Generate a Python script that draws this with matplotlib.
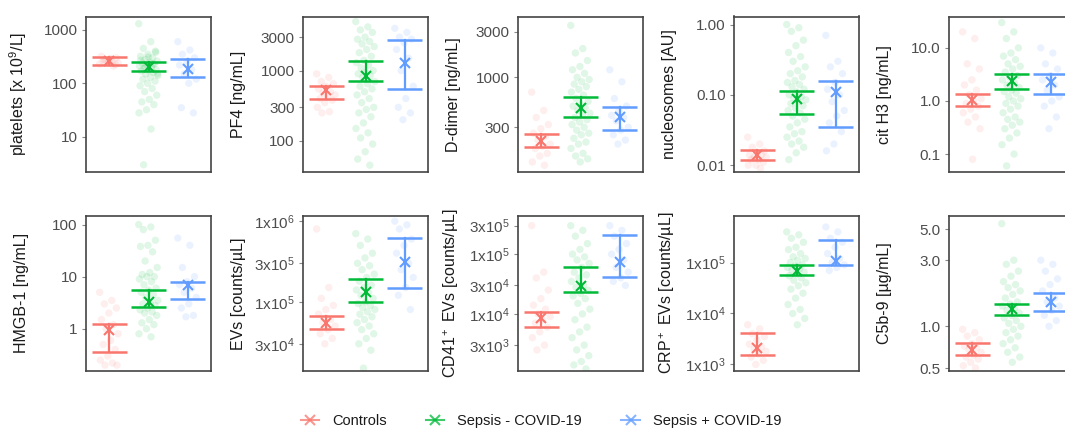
import matplotlib
matplotlib.use('Agg')
import matplotlib.pyplot as plt
from matplotlib.lines import Line2D
from matplotlib.ticker import FixedLocator, NullLocator

plt.rcParams['font.family'] = ['Liberation Sans', 'DejaVu Sans']
plt.rcParams['mathtext.fontset'] = 'custom'
plt.rcParams['mathtext.rm'] = 'Liberation Sans'
plt.rcParams['mathtext.it'] = 'Liberation Sans'

groups = ['Controls', 'Sepsis - COVID-19', 'Sepsis + COVID-19']
colors = ['#F8766D', '#00BA38', '#619CFF']

# --- data: points per group, error bar low / center / high per group ---
platelets_pts = [
    [230, 260, 280, 300, 250, 320, 210, 270, 240, 290, 260, 225],
    [1300, 600, 450, 400, 350, 320, 300, 280, 260, 250, 240, 230, 220, 210, 200, 190, 180, 175,
     170, 160, 150, 140, 130, 120, 110, 100, 90, 80, 70, 60, 50, 45, 40, 32, 28, 14, 3, 380, 310,
     270, 230, 200, 150],
    [600, 420, 350, 300, 260, 220, 180, 150, 120, 100, 35, 28],
]
platelets_lo = [222, 168, 134]
platelets_mid = [265, 206, 187]
platelets_hi = [317, 248, 287]

pf4_pts = [
    [900, 800, 700, 650, 600, 550, 500, 480, 450, 420, 400, 380, 350, 300, 260, 250],
    [5000, 4200, 3800, 3500, 3000, 2800, 2600, 2400, 2200, 2000, 1800, 1600, 1400, 1300, 1200,
     1100, 1000, 950, 900, 850, 800, 700, 650, 600, 550, 500, 450, 400, 350, 300, 280, 250, 220,
     180, 150, 130, 110, 90, 70, 55, 45],
    [4000, 3500, 3000, 2800, 2500, 2000, 1500, 1000, 600, 400, 300, 250, 200],
]
pf4_lo = [398, 703, 553]
pf4_mid = [530, 849, 1288]
pf4_hi = [597, 1360, 2710]

ddimer_pts = [
    [700, 450, 380, 320, 290, 260, 240, 220, 200, 190, 180, 160, 150, 130, 120],
    [3500, 2000, 1800, 1500, 1300, 1200, 1100, 1000, 950, 900, 850, 800, 750, 700, 650, 600, 560,
     520, 500, 480, 450, 420, 400, 380, 360, 340, 320, 300, 280, 260, 250, 230, 210, 200, 180, 160,
     150, 140, 130],
    [1200, 900, 600, 500, 450, 400, 380, 350, 300, 280, 250, 220, 200],
]
ddimer_lo = [188, 382, 281]
ddimer_mid = [217, 483, 385]
ddimer_hi = [253, 621, 486]

nucl_pts = [
    [0.025, 0.02, 0.018, 0.016, 0.015, 0.014, 0.014, 0.013, 0.013, 0.012, 0.012, 0.011, 0.010,
     0.010, 0.009],
    [1.0, 0.9, 0.8, 0.6, 0.5, 0.4, 0.35, 0.3, 0.25, 0.22, 0.2, 0.18, 0.16, 0.15, 0.14, 0.13, 0.12,
     0.11, 0.1, 0.095, 0.09, 0.085, 0.08, 0.075, 0.07, 0.065, 0.06, 0.055, 0.05, 0.045, 0.04,
     0.035, 0.03, 0.028, 0.025, 0.022, 0.02, 0.018, 0.015, 0.012],
    [0.7, 0.3, 0.25, 0.2, 0.15, 0.12, 0.1, 0.08, 0.06, 0.05, 0.04, 0.03, 0.02, 0.016],
]
nucl_lo = [0.0119, 0.054, 0.0352]
nucl_mid = [0.0139, 0.086, 0.109]
nucl_hi = [0.0162, 0.114, 0.155]

cith3_pts = [
    [20, 15, 5, 4, 2.5, 2, 1.6, 1.3, 1.1, 1.0, 0.9, 0.8, 0.7, 0.6, 0.5, 0.4, 0.3, 0.08],
    [30, 20, 15, 10, 8, 7, 6, 5, 4.5, 4, 3.5, 3, 2.8, 2.5, 2.2, 2, 1.8, 1.6, 1.5, 1.4, 1.2, 1.1,
     1.0, 0.9, 0.8, 0.7, 0.6, 0.5, 0.45, 0.4, 0.35, 0.3, 0.25, 0.2, 0.15, 0.1, 0.06],
    [10, 8, 5, 4, 3, 2.5, 2, 1.6, 1.2, 1.0, 0.8, 0.5, 0.3],
]
cith3_lo = [0.79, 1.69, 1.38]
cith3_mid = [1.06, 2.34, 2.3]
cith3_hi = [1.38, 3.2, 3.2]

hmgb_pts = [
    [5, 3.5, 3, 2.5, 2, 1.5, 1.2, 1.0, 0.8, 0.6, 0.5, 0.4, 0.3, 0.25, 0.22, 0.2, 0.2],
    [100, 90, 80, 50, 40, 38, 30, 20, 15, 12, 11, 10, 10, 9, 8, 7, 6, 5.5, 5, 4.5, 4, 3.5, 3.2, 3,
     2.8, 2.5, 2.3, 2.1, 2, 1.8, 1.5, 1.3, 1.2, 1.0, 0.8, 0.7],
    [55, 40, 15, 10, 8, 7, 6, 5, 4, 3, 2.5, 1.8, 1.7],
]
hmgb_lo = [0.355, 2.57, 3.7]
hmgb_mid = [0.95, 3.3, 6.9]
hmgb_hi = [1.25, 5.6, 8.0]

evs_pts = [
    [8e5, 1.5e5, 1.1e5, 9e4, 8e4, 7e4, 6e4, 5.5e4, 5e4, 4.5e4, 4e4, 3.5e4, 3e4],
    [7e5, 6e5, 5e5, 4e5, 3.5e5, 3e5, 2.8e5, 2.5e5, 2.2e5, 2e5, 1.8e5, 1.6e5, 1.5e5, 1.4e5, 1.3e5,
     1.2e5, 1.1e5, 1e5, 9.5e4, 9e4, 8.5e4, 8e4, 7.5e4, 7e4, 6.5e4, 6e4, 5.5e4, 5e4, 4.5e4, 4e4,
     3.5e4, 3e4, 2.5e4, 1.5e4],
    [1e6, 9e5, 8e5, 6e5, 5e5, 4e5, 3e5, 2.5e5, 2e5, 1.5e5, 1.2e5, 8e4],
]
evs_lo = [4.56e4, 1.0e5, 1.5e5]
evs_mid = [5.4e4, 1.33e5, 3.07e5]
evs_hi = [6.7e4, 1.89e5, 6.17e5]

cd41_pts = [
    [3e5, 5e4, 4e4, 2.5e4, 1.8e4, 1.4e4, 1.2e4, 1e4, 9e3, 8e3, 7e3, 6e3, 5e3, 4e3, 3e3, 2.5e3],
    [3e5, 2.5e5, 2e5, 1.5e5, 1.2e5, 1e5, 9e4, 8e4, 7e4, 6e4, 5e4, 4.5e4, 4e4, 3.5e4, 3e4, 2.8e4,
     2.5e4, 2.2e4, 2e4, 1.8e4, 1.5e4, 1.2e4, 1e4, 8e3, 6e3, 5e3, 4e3, 3e3, 2.5e3, 2e3, 1.6e3,
     1.4e3, 1.2e3],
    [3e5, 2.5e5, 2e5, 1.5e5, 1.2e5, 1e5, 8e4, 6e4, 5e4, 4e4, 3.5e4, 3e4],
]
cd41_lo = [6.1e3, 2.35e4, 4.18e4]
cd41_mid = [8.6e3, 2.95e4, 7.4e4]
cd41_hi = [1.06e4, 5.98e4, 2.07e5]

crp_pts = [
    [6e3, 5e3, 4e3, 3.5e3, 3e3, 2.5e3, 2.2e3, 2e3, 1.8e3, 1.6e3, 1.4e3, 1.2e3, 1e3],
    [4e5, 3.5e5, 3e5, 2.5e5, 2e5, 1.8e5, 1.5e5, 1.3e5, 1.2e5, 1.1e5, 1e5, 9e4, 8.5e4, 8e4, 7.5e4,
     7e4, 6.5e4, 6e4, 5.5e4, 5e4, 4.5e4, 4e4, 3.5e4, 3e4, 2.5e4, 2e4, 1.5e4, 1.2e4, 1e4, 8e3, 6e3],
    [5e5, 4e5, 3e5, 2.5e5, 2e5, 1.5e5, 1.2e5, 1e5, 9e4, 8e4, 7e4],
]
crp_lo = [1.55e3, 5.6e4, 8.97e4]
crp_mid = [2.1e3, 6.8e4, 1.07e5]
crp_hi = [4.05e3, 8.97e4, 2.77e5]

c5b9_pts = [
    [0.95, 0.9, 0.85, 0.8, 0.75, 0.72, 0.7, 0.68, 0.65, 0.62, 0.6, 0.58, 0.55, 0.52, 0.5],
    [5.5, 3, 2.8, 2.5, 2.3, 2.1, 2, 1.9, 1.8, 1.7, 1.6, 1.5, 1.45, 1.4, 1.35, 1.3, 1.25, 1.2,
     1.15, 1.1, 1.05, 1.0, 0.95, 0.9, 0.85, 0.8, 0.75, 0.7, 0.65, 0.6, 0.55],
    [3.0, 2.8, 2.5, 2.2, 2.0, 1.8, 1.6, 1.5, 1.4, 1.3, 1.2, 1.1, 1.0],
]
c5b9_lo = [0.62, 1.2, 1.29]
c5b9_mid = [0.68, 1.34, 1.51]
c5b9_hi = [0.76, 1.44, 1.74]

def sci(m, e):
    return '%dx$\\mathregular{10^{%d}}$' % (m, e)

# label, points, lo, mid, hi, ylim, ticks, ticklabels
panels = [
    ('platelets [x 10$\\mathregular{^9}$/L]', platelets_pts, platelets_lo, platelets_mid, platelets_hi,
     (2.2, 1775), [10, 100, 1000], ['10', '100', '1000']),
    ('PF4 [ng/mL]', pf4_pts, pf4_lo, pf4_mid, pf4_hi,
     (36, 5900), [100, 300, 1000, 3000], ['100', '300', '1000', '3000']),
    ('D-dimer [ng/mL]', ddimer_pts, ddimer_lo, ddimer_mid, ddimer_hi,
     (102, 4340), [300, 1000, 3000], ['300', '1000', '3000']),
    ('nucleosomes [AU]', nucl_pts, nucl_lo, nucl_mid, nucl_hi,
     (0.008, 1.3), [0.01, 0.1, 1.0], ['0.01', '0.10', '1.00']),
    ('cit H3 [ng/mL]', cith3_pts, cith3_lo, cith3_mid, cith3_hi,
     (0.046, 39), [0.1, 1.0, 10.0], ['0.1', '1.0', '10.0']),
    ('HMGB-1 [ng/mL]', hmgb_pts, hmgb_lo, hmgb_mid, hmgb_hi,
     (0.158, 146), [1, 10, 100], ['1', '10', '100']),
    ('EVs [counts/µL]', evs_pts, evs_lo, evs_mid, evs_hi,
     (1.4e4, 1.16e6), [3e4, 1e5, 3e5, 1e6], [sci(3, 4), sci(1, 5), sci(3, 5), sci(1, 6)]),
    ('CD41$\\mathregular{^+}$ EVs [counts/µL]', cd41_pts, cd41_lo, cd41_mid, cd41_hi,
     (1.13e3, 4.35e5), [3e3, 1e4, 3e4, 1e5, 3e5],
     [sci(3, 3), sci(1, 4), sci(3, 4), sci(1, 5), sci(3, 5)]),
    ('CRP$\\mathregular{^+}$ EVs [counts/µL]', crp_pts, crp_lo, crp_mid, crp_hi,
     (760, 8.2e5), [1e3, 1e4, 1e5], [sci(1, 3), sci(1, 4), sci(1, 5)]),
    ('C5b-9 [µg/mL]', c5b9_pts, c5b9_lo, c5b9_mid, c5b9_hi,
     (0.48, 6.25), [0.5, 1.0, 3.0, 5.0], ['0.5', '1.0', '3.0', '5.0']),
]

W, H = 1065, 428
fig = plt.figure(figsize=(W / 100, H / 100), dpi=100)

lefts = [86, 303, 518, 734, 949]
rows = [(16.5, 172), (216, 370.5)]
pw = 125

for k, (label, pts, lo, mid, hi, ylim, ticks, tlabels) in enumerate(panels):
    top, bot = rows[k // 5]
    x0 = lefts[k % 5]
    ax = fig.add_axes([x0 / W, 1 - bot / H, pw / W, (bot - top) / H])
    for g in range(3):
        vals = pts[g]
        xs = [g + 1 + ((i * 0.618034) % 1 - 0.5) * 0.5 for i in range(len(vals))]
        ax.scatter(xs, vals, s=28, color=colors[g], alpha=0.12, edgecolors='none', zorder=1)
        ax.plot([g + 1, g + 1], [lo[g], hi[g]], color=colors[g], lw=1.6, zorder=3)
        for yv in (lo[g], hi[g]):
            ax.plot([g + 1 - 0.45, g + 1 + 0.45], [yv, yv], color=colors[g], lw=1.8,
                    solid_capstyle='butt', zorder=3)
        ax.plot([g + 1], [mid[g]], marker='x', ms=7, mew=1.5, color=colors[g], zorder=4)
    ax.set_yscale('log')
    ax.set_ylim(*ylim)
    ax.set_xlim(0.4, 3.6)
    ax.yaxis.set_major_locator(FixedLocator(ticks))
    ax.yaxis.set_minor_locator(NullLocator())
    ax.set_yticklabels(tlabels)
    ax.set_xticks([])
    ax.tick_params(axis='y', length=3, width=0.8, color='#888888', labelcolor='#4D4D4D',
                   labelsize=11, pad=3)
    for sp in ax.spines.values():
        sp.set_color('#444444')
        sp.set_linewidth(1.2)
    ax.set_ylabel(label, fontsize=11.5, color='#1a1a1a')
    ax.yaxis.set_label_coords(-0.455, 0.5)

handles = [Line2D([0], [0], color=c, lw=1.5, marker='x', ms=7, mew=1.5, alpha=0.75)
           for c in colors]
fig.legend(handles, groups, loc='center', bbox_to_anchor=(541 / W, 1 - 421 / H), ncol=3,
           frameon=False, fontsize=10.5, handlelength=1.25, handletextpad=0.9,
           columnspacing=2.7, labelcolor='#1a1a1a')

fig.savefig('out.png', dpi=100)
